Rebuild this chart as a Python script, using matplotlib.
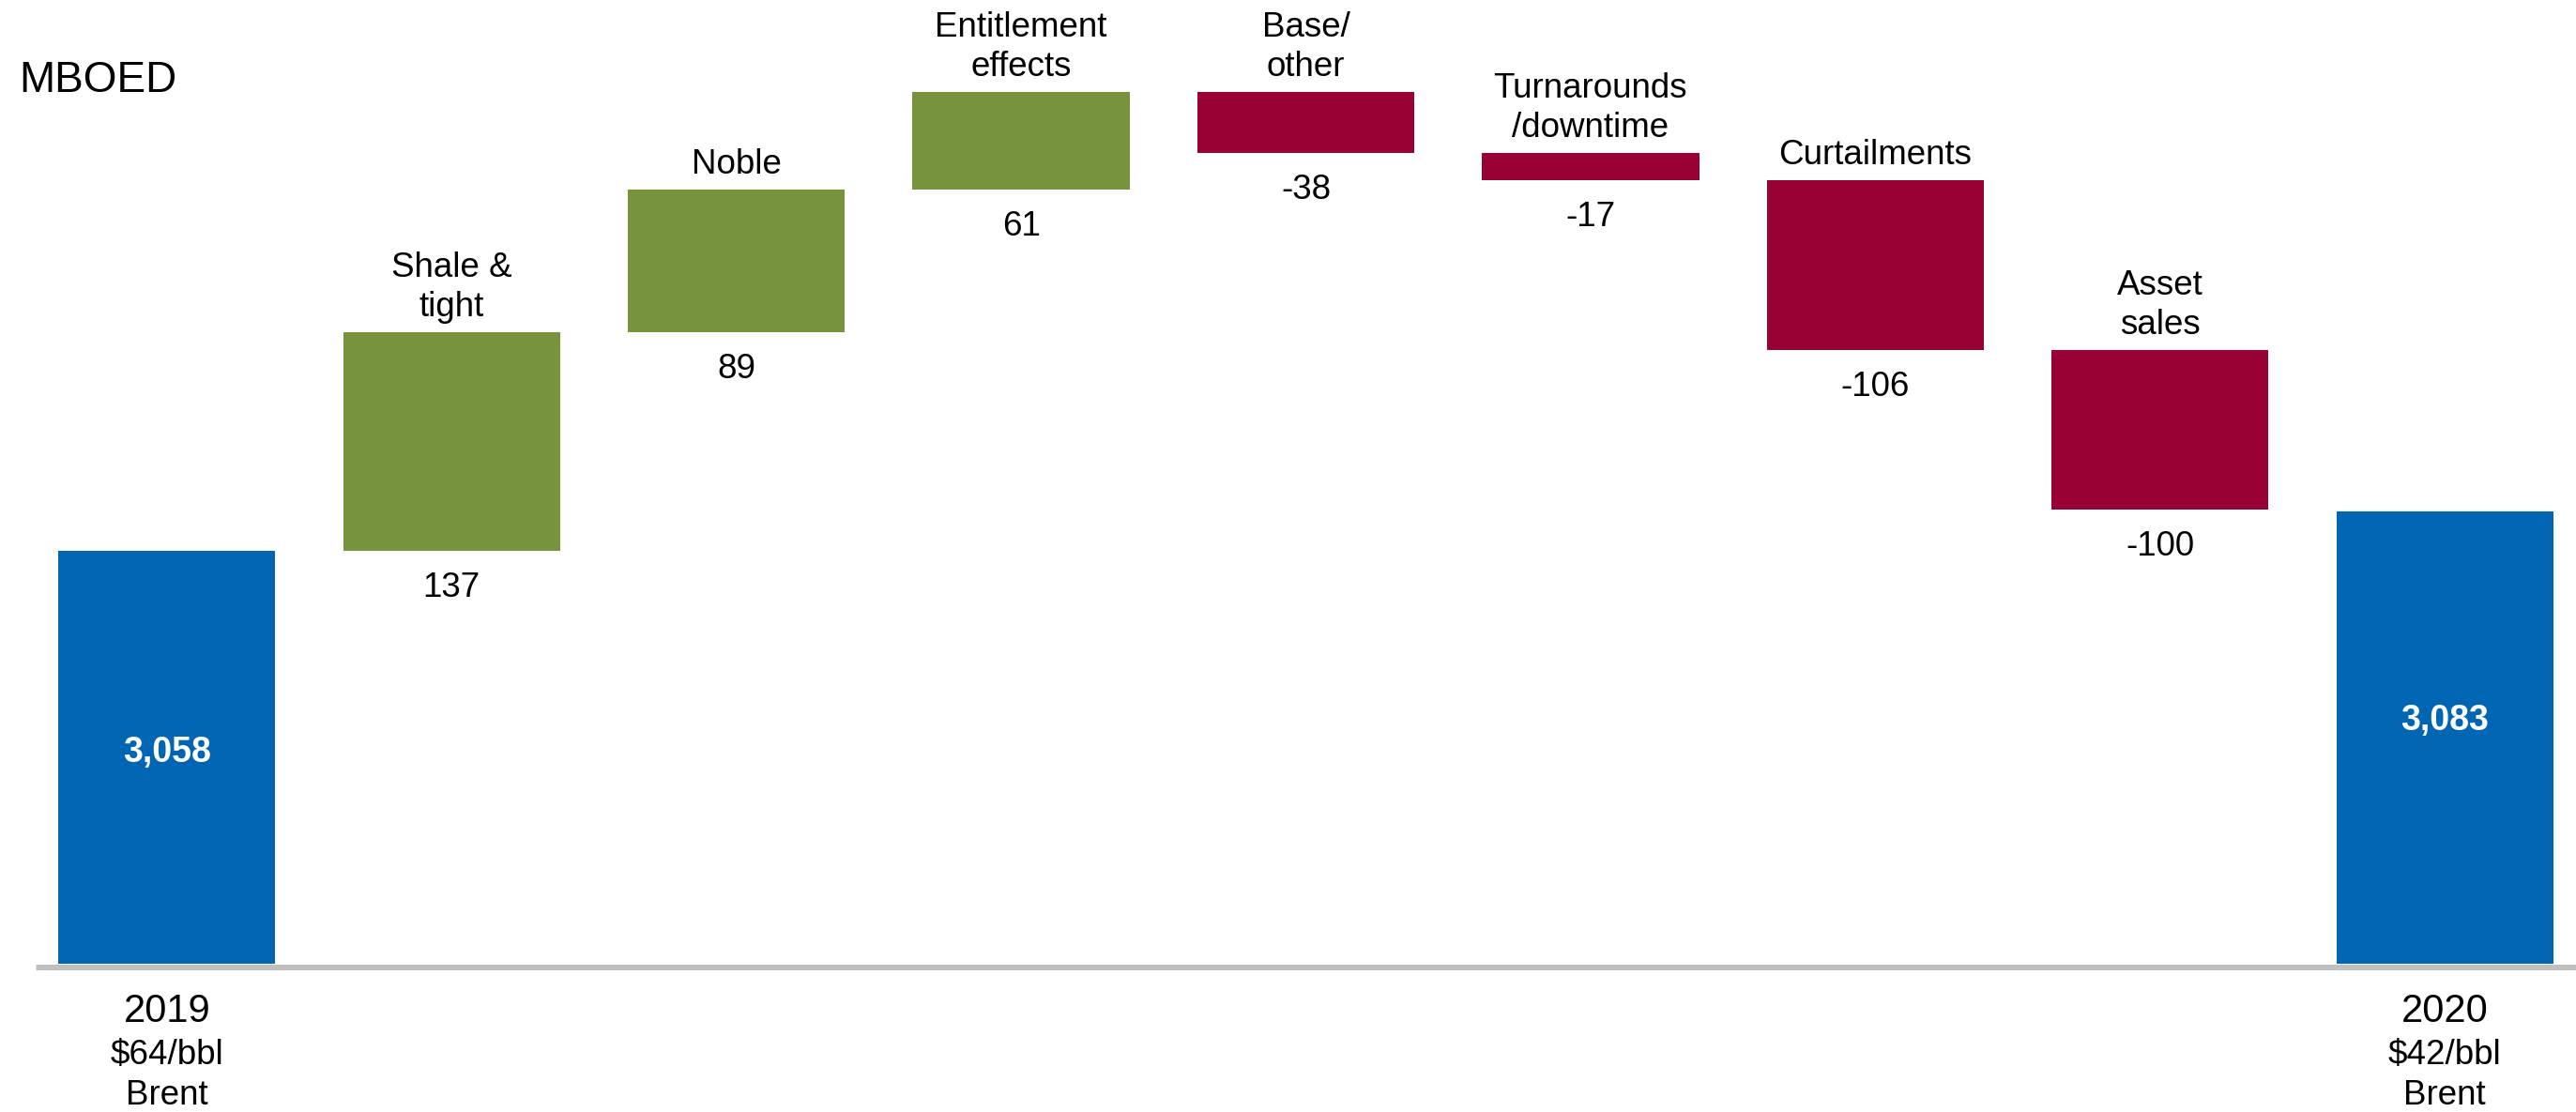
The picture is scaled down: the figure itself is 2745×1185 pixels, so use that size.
import matplotlib
matplotlib.use("Agg")
import matplotlib.pyplot as plt
import numpy as np

plt.rcParams['font.family'] = ['Liberation Sans', 'DejaVu Sans']

# ---- data ----
start_value = 3058
end_value = 3083
step_labels = ["Shale &\ntight", "Noble", "Entitlement\neffects", "Base/\nother",
               "Turnarounds\n/downtime", "Curtailments", "Asset\nsales"]
step_values = [137, 89, 61, -38, -17, -106, -100]
start_label = ["2019", "$64/bbl", "Brent"]
end_label = ["2020", "$42/bbl", "Brent"]
axis_floor = 2800
unit_label = "MBOED"

# ---- style ----
BLUE = "#0066B3"
GREEN = "#77933C"
RED = "#990033"
GRAY = "#BFBFBF"

W, H = 2745, 1185
fig = plt.figure(figsize=(W / 100, H / 100), dpi=100)
ax = fig.add_axes([38 / W, (H - 1034) / H, (W - 38) / W, 1034 / H])

n = len(step_values) + 2
x = np.arange(n)
bw = 0.762

ax.set_xlim(-0.461, n - 1 + 0.461)
ax.set_ylim(2795.9, 3402.6)
ax.axis('off')

ax.axhline(2797.95, color=GRAY, lw=5.04, solid_capstyle='butt', zorder=1)

# start bar
ax.bar(x[0], start_value - axis_floor, bottom=axis_floor, width=bw, color=BLUE, zorder=2)
ax.annotate(f"{start_value:,}", (x[0], (start_value + axis_floor) / 2), xytext=(0, 5),
            textcoords='offset pixels', ha='center', va='center', color='white',
            fontsize=27, fontweight='bold')

# steps
cum = start_value
for i, (lab, v) in enumerate(zip(step_labels, step_values), start=1):
    lo, hi = (cum, cum + v) if v >= 0 else (cum + v, cum)
    ax.bar(x[i], hi - lo, bottom=lo, width=bw, color=GREEN if v >= 0 else RED, zorder=2)
    ax.annotate(lab, (x[i], hi), xytext=(0, 9), textcoords='offset pixels',
                ha='center', va='bottom', fontsize=26.5, linespacing=1.25)
    ax.annotate(f"{v}", (x[i], lo), xytext=(0, -22), textcoords='offset pixels',
                ha='center', va='top', fontsize=26.5)
    cum += v

# end bar
ax.bar(x[-1], end_value - axis_floor, bottom=axis_floor, width=bw, color=BLUE, zorder=2)
ax.annotate(f"{end_value:,}", (x[-1], (end_value + axis_floor) / 2), xytext=(0, 18),
            textcoords='offset pixels', ha='center', va='center', color='white',
            fontsize=27, fontweight='bold')

# bottom category labels
for xi, lines in ((x[0], start_label), (x[-1], end_label)):
    ax.annotate(lines[0], (xi, axis_floor), xytext=(0, -(1078 - 1027)), textcoords='offset pixels',
                ha='center', va='center', fontsize=30, annotation_clip=False)
    ax.annotate(lines[1], (xi, axis_floor), xytext=(0, -(1124 - 1027)), textcoords='offset pixels',
                ha='center', va='center', fontsize=26.5, annotation_clip=False)
    ax.annotate(lines[2], (xi, axis_floor), xytext=(0, -(1167 - 1027)), textcoords='offset pixels',
                ha='center', va='center', fontsize=26.5, annotation_clip=False)

fig.text(20 / W, 1 - 86 / H, unit_label, ha='left', va='center', fontsize=33)

fig.savefig("out.png", dpi=100)
